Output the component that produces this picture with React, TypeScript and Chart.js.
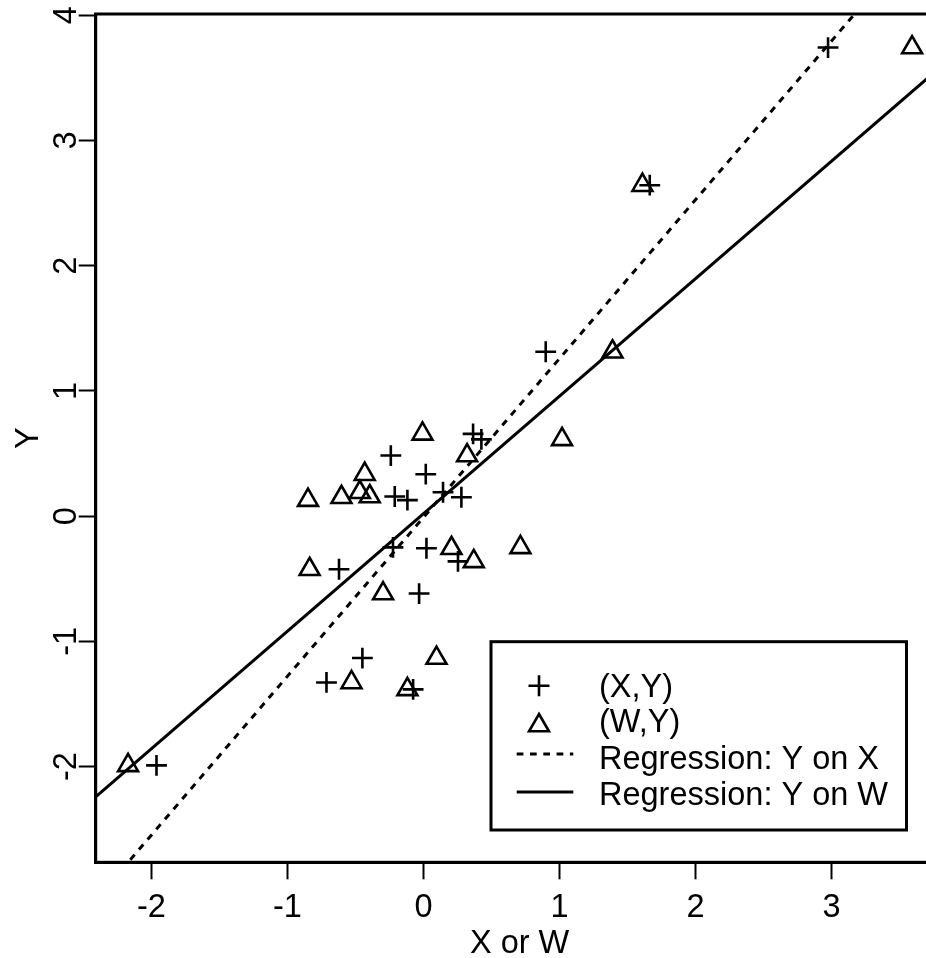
import React, { useEffect, useRef } from "react";
import { Chart, registerables } from "chart.js";

Chart.register(...registerables);

// ---- data ----
const yValues = [3.742, 2.643, 1.313, 0.657, 0.613, 0.484, 0.335, 0.191, 0.157, 0.151, 0.128, -0.249, -0.256, -0.361, -0.424, -0.618, -1.133, -1.328, -1.383, -1.99];
const xValues = [2.975, 1.664, 0.899, 0.365, 0.426, -0.24, 0.017, 0.144, -0.211, 0.279, -0.118, -0.224, 0.022, 0.254, -0.621, -0.032, -0.449, -0.713, -0.076, -1.963];
const wValues = [3.593, 1.61, 1.39, -0.007, 1.019, 0.321, -0.432, -0.468, -0.395, -0.603, -0.849, 0.713, 0.206, 0.37, -0.837, -0.297, 0.096, -0.529, -0.118, -2.172];

const seriesLabels = ["(X,Y)", "(W,Y)", "Regression: Y on X", "Regression: Y on W"];
// fitted lines: [Y on X, Y on W]
const regIntercepts = [-0.01, 0.02];
const regSlopes = [1.268, 0.938];

const xTicks = [-2, -1, 0, 1, 2, 3];
const yTicks = [-2, -1, 0, 1, 2, 3, 4];
const xLimits = [-2.41, 3.824];
const yLimits = [-2.764, 4.01];
const xTitle = "X or W";
const yTitle = "Y";

// ---- styling / layout ----
const FONT = '32.5px "Liberation Sans", Arial, sans-serif';
const CANVAS_W = 945;
const CANVAS_H = 958;

function lineEnds(i: number) {
  return xLimits.map((x) => ({ x, y: regIntercepts[i] + regSlopes[i] * x }));
}

function drawPlus(ctx: CanvasRenderingContext2D, x: number, y: number, r: number) {
  ctx.beginPath();
  ctx.moveTo(x - r, y);
  ctx.lineTo(x + r, y);
  ctx.moveTo(x, y - r);
  ctx.lineTo(x, y + r);
  ctx.stroke();
}

function drawTriangle(ctx: CanvasRenderingContext2D, x: number, y: number, r: number) {
  const s = Math.sin((2 * Math.PI) / 3) * r;
  ctx.beginPath();
  ctx.moveTo(x, y - r);
  ctx.lineTo(x + s, y + r / 2);
  ctx.lineTo(x - s, y + r / 2);
  ctx.closePath();
  ctx.stroke();
}

const framePlugin = {
  id: "rframe",
  afterDraw(chart: any) {
    const { ctx, chartArea: a, scales } = chart;
    ctx.save();
    ctx.strokeStyle = "#000";
    ctx.fillStyle = "#000";
    ctx.lineWidth = 3;
    ctx.setLineDash([]);
    ctx.strokeRect(a.left, a.top, a.right - a.left, a.bottom - a.top);

    ctx.font = FONT;
    ctx.textAlign = "center";
    ctx.textBaseline = "alphabetic";
    // x tick labels
    xTicks.forEach((v) => {
      ctx.fillText(String(v), scales.x.getPixelForValue(v), a.bottom + 55);
    });
    // x title
    ctx.fillText(xTitle, (a.left + a.right) / 2, a.bottom + 91);
    // y tick labels (rotated, reading upward)
    yTicks.forEach((v) => {
      ctx.save();
      ctx.translate(a.left - 19.3, scales.y.getPixelForValue(v));
      ctx.rotate(-Math.PI / 2);
      ctx.fillText(String(v), 0, 0);
      ctx.restore();
    });
    // y title
    ctx.save();
    ctx.translate(a.left - 57.4, (a.top + a.bottom) / 2);
    ctx.rotate(-Math.PI / 2);
    ctx.fillText(yTitle, 0, 0);
    ctx.restore();

    // legend (bottom right inside the plot)
    const box = { left: 491, top: 641.7, right: a.right - 37, bottom: a.bottom - 32.3 };
    ctx.fillStyle = "#fff";
    ctx.fillRect(box.left, box.top, box.right - box.left, box.bottom - box.top);
    ctx.fillStyle = "#000";
    ctx.lineWidth = 3;
    ctx.strokeRect(box.left, box.top, box.right - box.left, box.bottom - box.top);

    const textX = 599;
    const symX = 539;
    const baselines = [696.7, 732.3, 768.5, 804.8];
    const symY = [685.7, 725.5, 754, 792];
    ctx.textAlign = "left";
    seriesLabels.forEach((lab, i) => ctx.fillText(lab, textX, baselines[i]));

    ctx.lineWidth = 2.6;
    drawPlus(ctx, symX, symY[0], 10.5);
    drawTriangle(ctx, symX, symY[1], 11.5);
    ctx.lineWidth = 3;
    ctx.setLineDash([6.7, 6.6]);
    ctx.beginPath();
    ctx.moveTo(516.7, symY[2]);
    ctx.lineTo(573.3, symY[2]);
    ctx.stroke();
    ctx.setLineDash([]);
    ctx.beginPath();
    ctx.moveTo(516.7, symY[3]);
    ctx.lineTo(573.3, symY[3]);
    ctx.stroke();
    ctx.restore();
  },
};

export default function App() {
  const ref = useRef<HTMLCanvasElement>(null);

  useEffect(() => {
    const canvas = ref.current;
    if (!canvas) return;
    Chart.defaults.font.family = '"Liberation Sans", Arial, sans-serif';
    const chart = new Chart(canvas, {
      type: "scatter",
      data: {
        datasets: [
          {
            label: seriesLabels[0],
            data: xValues.map((x, i) => ({ x, y: yValues[i] })),
            pointStyle: "cross",
            pointRadius: 10.4,
            pointBorderWidth: 2.6,
            pointBorderColor: "#000",
            pointBackgroundColor: "#000",
            borderColor: "#000",
            showLine: false,
          },
          {
            label: seriesLabels[1],
            data: wValues.map((x, i) => ({ x, y: yValues[i] })),
            pointStyle: "triangle",
            pointRadius: 11.5,
            pointBorderWidth: 2.6,
            pointBorderColor: "#000",
            pointBackgroundColor: "rgba(0,0,0,0)",
            borderColor: "#000",
            showLine: false,
          },
          {
            type: "line",
            label: seriesLabels[2],
            data: lineEnds(0),
            borderColor: "#000",
            borderWidth: 3,
            borderDash: [6.7, 6.6],
            pointRadius: 0,
            fill: false,
          } as any,
          {
            type: "line",
            label: seriesLabels[3],
            data: lineEnds(1),
            borderColor: "#000",
            borderWidth: 3,
            pointRadius: 0,
            fill: false,
          } as any,
        ],
      },
      options: {
        responsive: false,
        animation: false,
        devicePixelRatio: 1,
        events: [],
        layout: { autoPadding: false, padding: { top: 14, right: CANVAS_W - 943.5, left: 0, bottom: 0 } },
        plugins: { legend: { display: false }, tooltip: { enabled: false } },
        scales: {
          x: {
            type: "linear",
            min: xLimits[0],
            max: xLimits[1],
            afterBuildTicks: (s: any) => {
              s.ticks = xTicks.map((v) => ({ value: v }));
            },
            afterFit: (s: any) => {
              s.height = 95.7;
            },
            ticks: { display: false },
            grid: { display: true, drawOnChartArea: false, drawTicks: true, tickLength: 17, tickWidth: 2, tickColor: "#000" },
            border: { display: true, color: "#000", width: 3 },
          },
          y: {
            type: "linear",
            min: yLimits[0],
            max: yLimits[1],
            afterBuildTicks: (s: any) => {
              s.ticks = yTicks.map((v) => ({ value: v }));
            },
            afterFit: (s: any) => {
              s.width = 95.7;
            },
            ticks: { display: false },
            grid: { display: true, drawOnChartArea: false, drawTicks: true, tickLength: 17, tickWidth: 2, tickColor: "#000" },
            border: { display: true, color: "#000", width: 3 },
          },
        },
      },
      plugins: [framePlugin],
    } as any);
    return () => chart.destroy();
  }, []);

  return (
    <div style={{ position: "absolute", left: 0, top: 0, width: 926, height: 958, overflow: "hidden", background: "#fff" }}>
      <canvas ref={ref} width={CANVAS_W} height={CANVAS_H} style={{ display: "block", width: CANVAS_W, height: CANVAS_H }} />
    </div>
  );
}
